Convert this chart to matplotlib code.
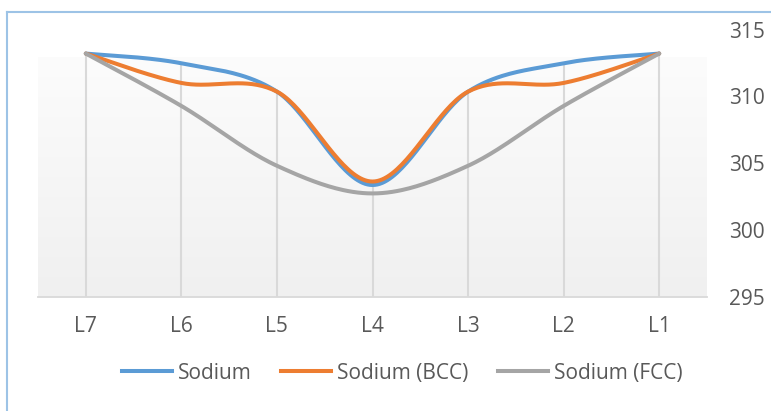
import numpy as np
import matplotlib
matplotlib.use("Agg")
import matplotlib.pyplot as plt
from matplotlib.lines import Line2D
from matplotlib.colors import LinearSegmentedColormap

categories = ["L7", "L6", "L5", "L4", "L3", "L2", "L1"]
sodium = [313.2, 312.47, 310.35, 303.36, 310.35, 312.47, 313.2]
sodium_bcc = [313.2, 311.0, 310.35, 303.62, 310.35, 311.0, 313.2]
sodium_fcc = [313.2, 309.28, 304.8, 302.73, 304.8, 309.28, 313.2]
series_names = ["Sodium", "Sodium (BCC)", "Sodium (FCC)"]
colors = ["#5b9bd5", "#ed7d31", "#a5a5a5"]
y_ticks = [295, 300, 305, 310, 315]

plt.rcParams["font.family"] = ["Open Sans", "DejaVu Sans"]
TEXT = "#595959"
FS = 15


def smooth(xs, ys, n=40):
    """Catmull-Rom style cubic Bezier smoothing through every point."""
    xs = np.asarray(xs, float)
    ys = np.asarray(ys, float)
    px = np.concatenate([[xs[0]], xs, [xs[-1]]])
    py = np.concatenate([[ys[0]], ys, [ys[-1]]])
    out_x, out_y = [], []
    t = np.linspace(0, 1, n)
    for i in range(1, len(px) - 2):
        p0 = np.array([px[i], py[i]])
        p3 = np.array([px[i + 1], py[i + 1]])
        c1 = p0 + (np.array([px[i + 1], py[i + 1]]) - np.array([px[i - 1], py[i - 1]])) / 6
        c2 = p3 - (np.array([px[i + 2], py[i + 2]]) - np.array([px[i], py[i]])) / 6
        b = ((1 - t) ** 3)[:, None] * p0 + (3 * (1 - t) ** 2 * t)[:, None] * c1 \
            + (3 * (1 - t) * t ** 2)[:, None] * c2 + (t ** 3)[:, None] * p3
        out_x.extend(b[:, 0])
        out_y.extend(b[:, 1])
    return np.array(out_x), np.array(out_y)


fig = plt.figure(figsize=(7.71, 4.11), dpi=100)
W, H = 771, 411
ax = fig.add_axes([38 / W, (H - 296.7) / H, (707 - 38) / W, (296.7 - 29.5) / H])

x = np.arange(len(categories))
ax.set_xlim(-0.5, len(categories) - 0.5)
ax.set_ylim(y_ticks[0], y_ticks[-1])

# plot-area gradient fill: light at the top, soft gray at the bottom
grad = LinearSegmentedColormap.from_list("bg", ["#fcfcfc", "#f0f0f0"])
ax.imshow(np.linspace(0, 1, 256)[::-1, None], aspect="auto", cmap=grad,
          extent=(-0.5, len(categories) - 0.5, 295, 312.9), origin="lower",
          zorder=0, interpolation="bicubic")

# drop lines from the highest series down to the axis
top = np.max([sodium, sodium_bcc, sodium_fcc], axis=0)
ax.vlines(x, y_ticks[0], top, color="#d9d9d9", lw=1.5, zorder=1)

for vals, name, c in zip([sodium, sodium_bcc, sodium_fcc], series_names, colors):
    sx, sy = smooth(x, vals)
    ax.plot(sx, sy, color=c, lw=2.9, solid_capstyle="round",
            solid_joinstyle="round", zorder=3, label=name)

for s in ["top", "left", "right"]:
    ax.spines[s].set_visible(False)
ax.spines["bottom"].set_color("#d9d9d9")
ax.spines["bottom"].set_linewidth(1.3)

ax.set_xticks(x)
ax.set_xticklabels(categories)
ax.yaxis.tick_right()
ax.set_yticks(y_ticks)
ax.tick_params(axis="x", length=0, pad=14, labelsize=FS, labelcolor=TEXT)
ax.tick_params(axis="y", length=0, pad=16, labelsize=FS, labelcolor=TEXT)
ax.set_facecolor("none")

handles = [Line2D([0], [0], color=c, lw=2.9) for c in colors]
fig.legend(handles, series_names, loc="center", bbox_to_anchor=(402 / W, (H - 373) / H),
           ncol=3, frameon=False, fontsize=FS, labelcolor=TEXT, handlelength=2.4,
           handletextpad=0.3, columnspacing=1.4)

# chart-area border (top and left edges)
fig.add_artist(Line2D([7 / W, 7 / W], [0, (H - 12) / H], color="#9dc3e6", lw=1.5))
fig.add_artist(Line2D([7 / W, 1], [(H - 12) / H, (H - 12) / H], color="#9dc3e6", lw=1.5))

fig.savefig("out.png", dpi=100)
